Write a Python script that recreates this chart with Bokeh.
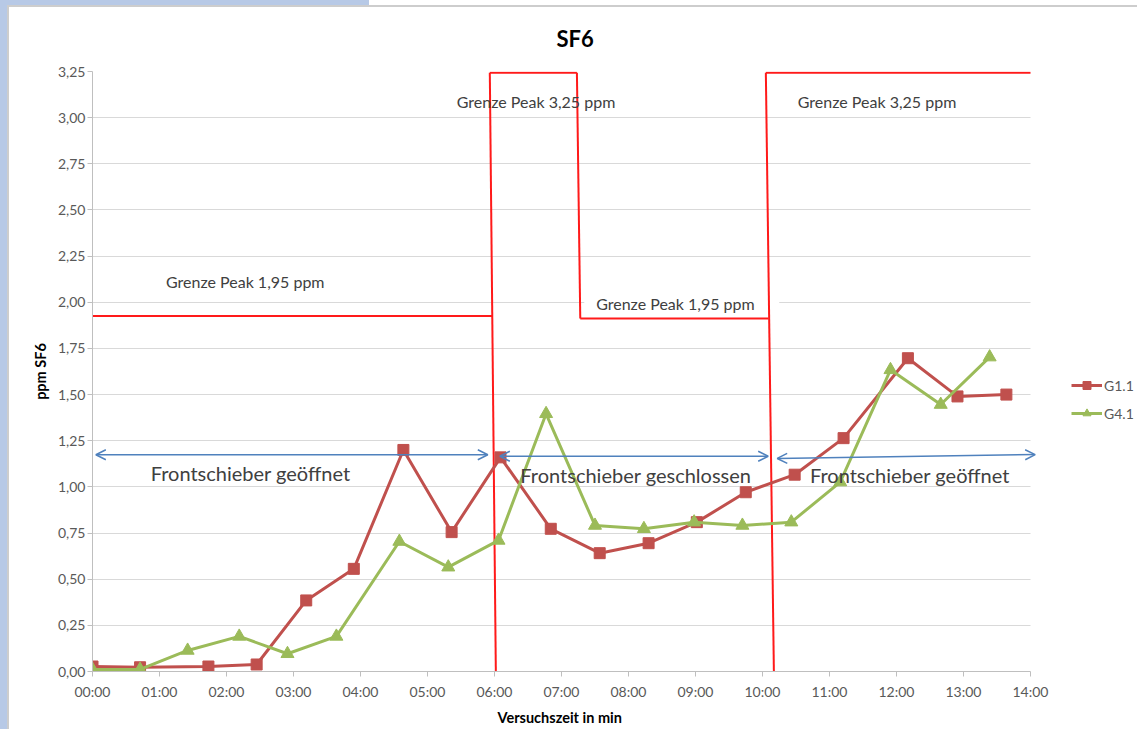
from bokeh.plotting import figure
from bokeh.models import (Range1d, FixedTicker, CustomJSTickFormatter, Label, Arrow, OpenHead,
                          Legend, LegendItem, Title)
from bokeh.embed import file_html
from bokeh.resources import INLINE

FONT = "Lato"

# ---------------- data ----------------
title_text = "SF6"
x_axis_title = "Versuchszeit in min"
y_axis_title = "ppm SF6"

x_ticks = list(range(0, 15))
x_tick_labels = ["00:00", "01:00", "02:00", "03:00", "04:00", "05:00", "06:00", "07:00",
                 "08:00", "09:00", "10:00", "11:00", "12:00", "13:00", "14:00"]
y_ticks = [0.0, 0.25, 0.5, 0.75, 1.0, 1.25, 1.5, 1.75, 2.0, 2.25, 2.5, 2.75, 3.0, 3.25]
y_tick_labels = ["0,00", "0,25", "0,50", "0,75", "1,00", "1,25", "1,50", "1,75",
                 "2,00", "2,25", "2,50", "2,75", "3,00", "3,25"]

# G1.1 (minutes, ppm)
g11_t = [0.0, 0.71, 1.73, 2.45, 3.19, 3.90, 4.64, 5.36, 6.09, 6.84, 7.57, 8.30,
         9.02, 9.75, 10.48, 11.21, 12.17, 12.91, 13.64]
g11_v = [0.027, 0.023, 0.027, 0.038, 0.385, 0.556, 1.20, 0.755, 1.16, 0.773, 0.641, 0.695,
         0.809, 0.971, 1.066, 1.264, 1.697, 1.49, 1.50]
# G4.1
g41_t = [0.0, 0.71, 1.42, 2.19, 2.91, 3.64, 4.58, 5.31, 6.06, 6.77, 7.50, 8.23,
         8.98, 9.70, 10.43, 11.16, 11.91, 12.66, 13.39]
g41_v = [0.011, 0.011, 0.114, 0.19, 0.096, 0.19, 0.704, 0.565, 0.71, 1.396, 0.791, 0.773,
         0.809, 0.791, 0.809, 1.026, 1.634, 1.446, 1.703]

# limit ("Grenze Peak") segments
limit_t = [[0.0, 5.97], [5.93, 6.02], [5.93, 7.23], [7.23, 7.28], [7.28, 10.09],
           [10.05, 10.17], [10.05, 14.0]]
limit_v = [[1.925, 1.925], [3.243, 0.0], [3.243, 3.243], [3.243, 1.912], [1.912, 1.912],
           [3.243, 0.0], [3.243, 3.243]]

# phase arrows and labels
phase_t0 = [0.05, 6.08, 10.22]
phase_t1 = [5.90, 10.085, 14.07]
phase_v0 = [1.174, 1.166, 1.154]
phase_v1 = [1.174, 1.166, 1.175]
phase_labels = ["Frontschieber geöffnet", "Frontschieber geschlossen", "Frontschieber geöffnet"]
limit_labels = ["Grenze Peak 1,95 ppm", "Grenze Peak 3,25 ppm", "Grenze Peak 1,95 ppm",
                "Grenze Peak 3,25 ppm"]

# ---------------- figure ----------------
X_VIEW_END = 15.597   # extra room on the right of the plot area for the legend
p = figure(width=1137, height=729, x_range=Range1d(0, X_VIEW_END), y_range=Range1d(0, 3.25),
           output_backend="svg", toolbar_location=None,
           min_border_left=92, min_border_right=0, min_border_top=71, min_border_bottom=58)
p.outline_line_color = None
p.background_fill_color = "white"
p.border_fill_alpha = 0
# page chrome of the original screenshot (light blue bands, grey frame edge)
p.styles = {"background": ("linear-gradient(#b7c9e6, #b7c9e6) 0 0 / 7px 100% no-repeat, "
                           "linear-gradient(#b7c9e6, #b7c9e6) 0 0 / 369px 5px no-repeat, "
                           "linear-gradient(#cdcdcd, #cdcdcd) 7px 5px / 2px 100% no-repeat, "
                           "linear-gradient(#cdcdcd, #cdcdcd) 7px 5px / 100% 2px no-repeat, "
                           "#ffffff")}

p.title = Title(text=title_text, align="left", offset=464, standoff=40,
                text_font=FONT, text_font_size="22px", text_font_style="bold",
                text_color="#000000")

fmt_code = "const i = vals.indexOf(tick); return i >= 0 ? labels[i] : '';"
p.xaxis.ticker = FixedTicker(ticks=x_ticks)
p.xaxis.formatter = CustomJSTickFormatter(args=dict(vals=x_ticks, labels=x_tick_labels), code=fmt_code)
p.xaxis.bounds = (x_ticks[0], x_ticks[-1])
p.yaxis.ticker = FixedTicker(ticks=y_ticks)
p.yaxis.formatter = CustomJSTickFormatter(args=dict(vals=y_ticks, labels=y_tick_labels), code=fmt_code)

for ax in (p.xaxis[0], p.yaxis[0]):
    ax.axis_line_color = "#bfbfbf"
    ax.major_tick_line_color = "#bfbfbf"
    ax.major_tick_out = 5
    ax.major_tick_in = 0
    ax.minor_tick_line_color = None
    ax.major_label_text_font = FONT
    ax.major_label_text_font_size = "14px"
    ax.major_label_text_color = "#595959"
    ax.axis_label_text_font = FONT
    ax.axis_label_text_font_size = "14.5px"
    ax.axis_label_text_font_style = "bold"
    ax.axis_label_text_color = "#000000"

p.yaxis.axis_label = y_axis_title
p.xaxis.major_label_standoff = 6
p.yaxis.major_label_standoff = 2
p.yaxis.axis_label_standoff = 6

# x axis title placed under the axis, starting where the reference has it
p.add_layout(Title(text=x_axis_title, align="left", offset=405, standoff=8,
                   text_font=FONT, text_font_size="14.5px", text_font_style="bold",
                   text_color="#000000"), "below")

p.xgrid.visible = False
p.ygrid.ticker = FixedTicker(ticks=y_ticks)
p.ygrid.grid_line_color = "#d9d9d9"
p.ygrid.grid_line_width = 1
if "cross_bounds" in p.ygrid[0].properties():
    p.ygrid.cross_bounds = (x_ticks[0], x_ticks[-1])
else:
    p.ygrid.visible = False
    p.segment(x0=[x_ticks[0]] * len(y_ticks), x1=[x_ticks[-1]] * len(y_ticks),
              y0=y_ticks, y1=y_ticks, line_color="#d9d9d9", line_width=1)

# white background behind the middle limit label
p.quad(left=[7.34], right=[10.25], bottom=[1.955], top=[2.04], fill_color="white",
       line_color=None)

# limit lines
p.multi_line(xs=limit_t, ys=limit_v, line_color="#ff1a1a", line_width=2)

# series
r1l = p.line(g11_t, g11_v, line_color="#c0504d", line_width=3)
r1m = p.scatter(g11_t, g11_v, marker="square", size=11, fill_color="#c0504d",
                line_color="#c0504d")
r2l = p.line(g41_t, g41_v, line_color="#9bbb59", line_width=3)
r2m = p.scatter(g41_t, g41_v, marker="triangle", size=13, fill_color="#9bbb59",
                line_color="#9bbb59")

# arrows
for t0, t1, v0, v1 in zip(phase_t0, phase_t1, phase_v0, phase_v1):
    p.add_layout(Arrow(x_start=t0, y_start=v0, x_end=t1, y_end=v1,
                       start=OpenHead(size=10, line_color="#4f81bd", line_width=1.5),
                       end=OpenHead(size=10, line_color="#4f81bd", line_width=1.5),
                       line_color="#4f81bd", line_width=1.5))

# phase labels
for x, y, txt in zip([2.36, 8.11, 12.2], [1.073, 1.062, 1.067], phase_labels):
    p.add_layout(Label(x=x, y=y, text=txt, text_font=FONT, text_font_size="20px",
                       text_color="#404040", text_align="center", text_baseline="middle"))

# limit labels
for x, y, txt in zip([2.28, 6.62, 8.70, 11.71], [2.112, 3.088, 1.993, 3.088], limit_labels):
    p.add_layout(Label(x=x, y=y, text=txt, text_font=FONT, text_font_size="16px",
                       text_color="#404040", text_align="center", text_baseline="middle"))

legend = Legend(items=[LegendItem(label="G1.1", renderers=[r1l, r1m]),
                       LegendItem(label="G4.1", renderers=[r2l, r2m])],
                location=(979, 248), padding=0, margin=0, spacing=8,
                glyph_width=31, glyph_height=20, label_height=20, label_standoff=2,
                border_line_color=None, background_fill_alpha=0,
                label_text_font=FONT, label_text_font_size="14px",
                label_text_color="#595959")
p.add_layout(legend, "center")

open("out.html", "w").write(file_html(p, INLINE))
